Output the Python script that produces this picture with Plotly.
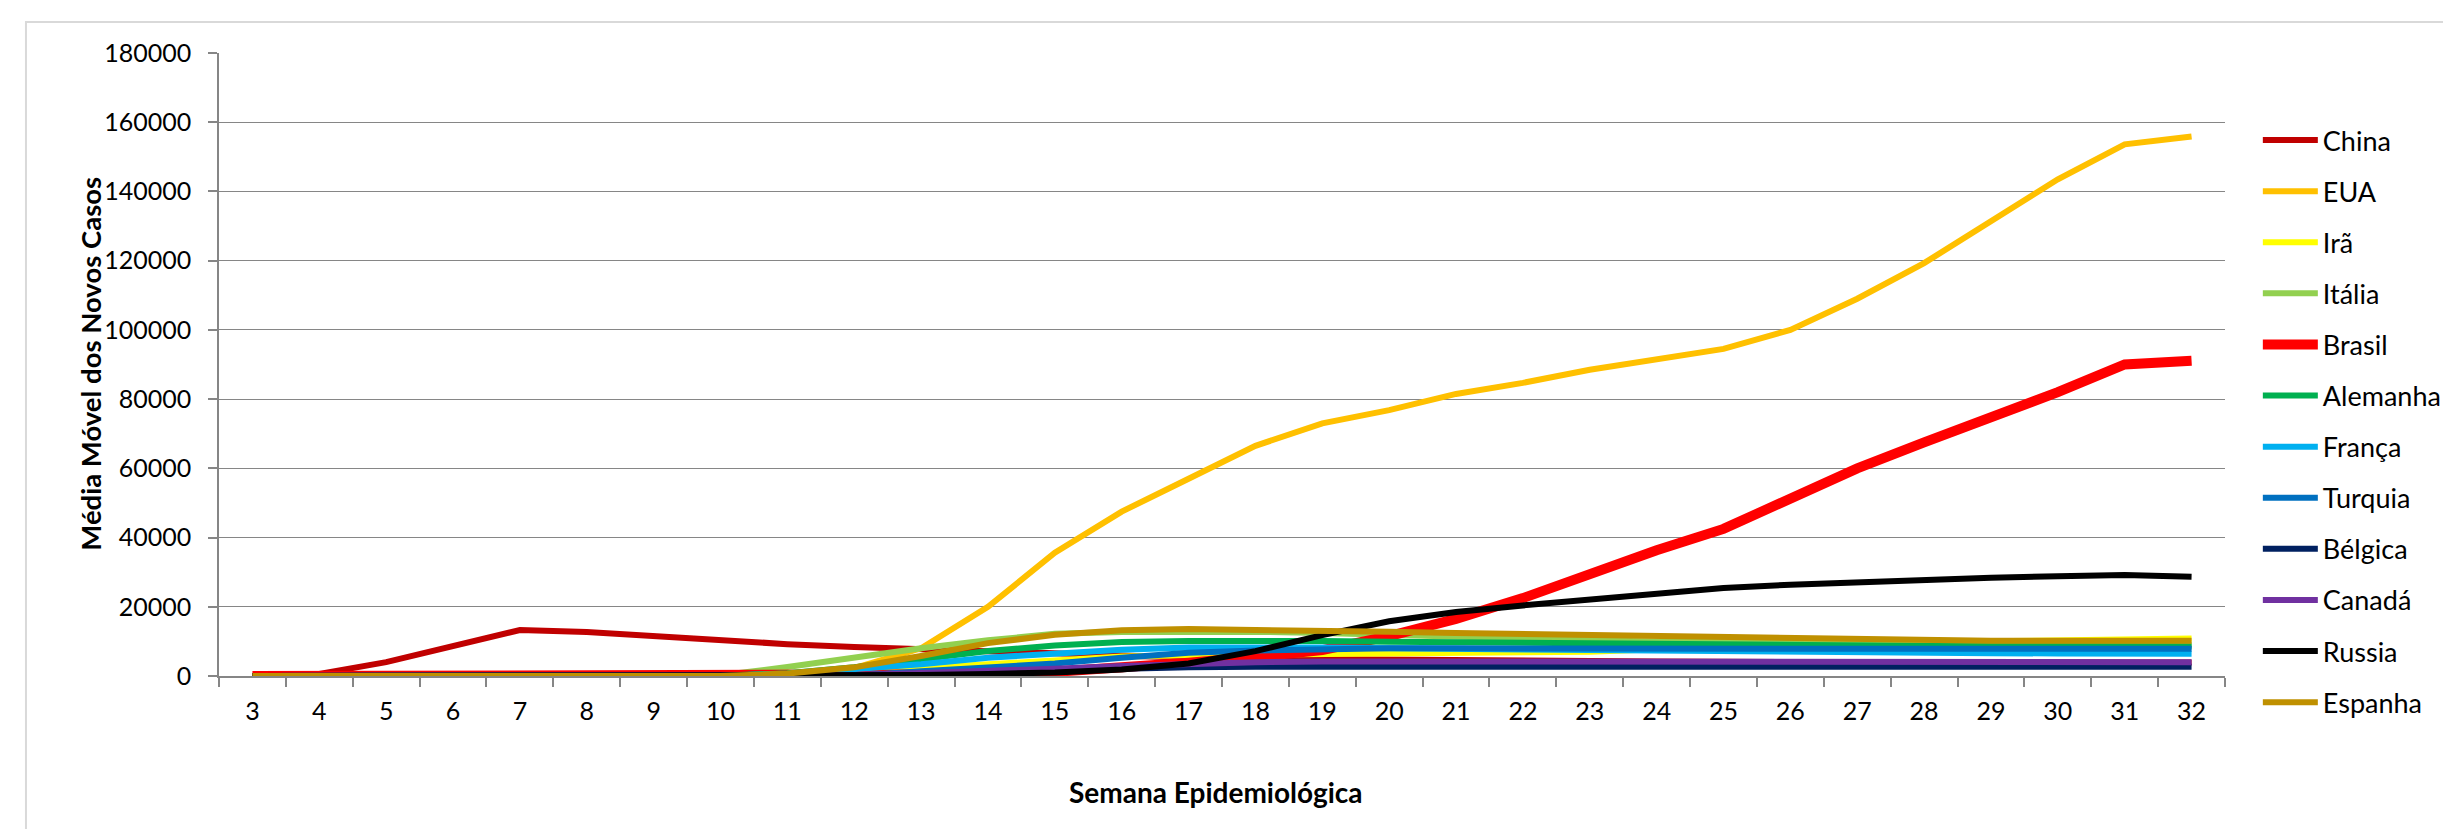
import plotly.graph_objects as go

weeks = [str(w) for w in range(3, 33)]

china    = [0, 600, 4000, 8500, 13300, 12700, 11500, 10300, 9200, 8400, 7800, 7000, 6300, 5700, 5300, 5000, 4800, 4600, 4500, 4400, 4300, 4200, 4100, 4000, 4000, 3900, 3900, 3900, 3900, 3900]
eua      = [0, 0, 0, 0, 0, 0, 0, 100, 500, 2300, 8000, 20000, 35600, 47500, 57000, 66500, 73000, 76800, 81500, 84700, 88500, 91500, 94500, 100000, 109000, 119300, 131500, 143500, 153600, 155900]
ira      = [0, 0, 0, 0, 0, 0, 0, 100, 700, 1400, 2300, 3400, 4600, 5600, 6000, 6100, 6200, 6300, 6400, 6500, 7000, 7700, 8400, 9000, 9400, 9800, 10100, 10300, 10600, 10800]
italia   = [0, 0, 0, 0, 0, 0, 0, 200, 2600, 5500, 8000, 10300, 12200, 12700, 12900, 12800, 12400, 11800, 11200, 10700, 10300, 10000, 9800, 9600, 9400, 9300, 9200, 9100, 9000, 9000]
brasil   = [0, 0, 0, 0, 0, 0, 0, 0, 0, 30, 150, 500, 1200, 2300, 3800, 5500, 7500, 11500, 16500, 22500, 29500, 36300, 42500, 51000, 60000, 67500, 74500, 82000, 90000, 91100]
alemanha = [0, 0, 0, 0, 0, 0, 0, 100, 800, 2500, 4800, 7200, 8800, 9800, 10100, 10200, 10100, 9900, 9700, 9500, 9300, 9100, 9000, 8900, 8800, 8700, 8600, 8500, 8500, 8500]
franca   = [0, 0, 0, 0, 0, 0, 0, 100, 600, 1800, 3400, 5300, 6600, 7600, 8200, 8300, 8200, 8000, 7800, 7600, 7400, 7200, 7000, 6900, 6800, 6700, 6600, 6500, 6400, 6400]
turquia  = [0, 0, 0, 0, 0, 0, 0, 0, 0, 100, 1400, 2400, 3600, 5300, 6700, 7400, 7800, 8000, 8000, 7900, 7900, 7900, 7900, 7900, 7900, 7900, 7900, 7900, 7900, 7900]
belgica  = [0, 0, 0, 0, 0, 0, 0, 0, 50, 200, 700, 1200, 1700, 2200, 2500, 2700, 2700, 2700, 2700, 2700, 2700, 2700, 2700, 2700, 2700, 2700, 2700, 2700, 2650, 2650]
canada   = [0, 0, 0, 0, 0, 0, 0, 0, 50, 300, 900, 1400, 2100, 2900, 3600, 4000, 4200, 4200, 4200, 4200, 4200, 4100, 4100, 4100, 4000, 4000, 4000, 4000, 4000, 4000]
russia   = [0, 0, 0, 0, 0, 0, 0, 0, 0, 50, 300, 600, 1000, 1900, 3600, 7200, 11800, 15800, 18500, 20400, 22200, 24000, 25400, 26400, 27200, 27900, 28400, 28800, 29200, 28700]
espanha  = [0, 0, 0, 0, 0, 0, 0, 0, 700, 2500, 5800, 9500, 11900, 13200, 13550, 13400, 13150, 12800, 12400, 12100, 11700, 11400, 11100, 10800, 10550, 10300, 10200, 10200, 10200, 10200]

names = ["China", "EUA", "Irã", "Itália", "Brasil", "Alemanha", "França", "Turquia", "Bélgica", "Canadá", "Russia", "Espanha"]
series = [china, eua, ira, italia, brasil, alemanha, franca, turquia, belgica, canada, russia, espanha]
colors = ["#C00000", "#FFC000", "#FFFF00", "#92D050", "#FF0000", "#00B050", "#00B0F0", "#0070C0", "#002060", "#7030A0", "#000000", "#BF9000"]
widths = [6, 6, 6, 6, 10, 6, 6, 6, 6, 6, 6, 6]

W, H = 2451, 829
PL, PR, PT, PB = 211, 2227, 45, 668  # plot area in px

def px_x(x):
    return (x - PL) / (PR - PL)

def px_y(y):
    return (PB - y) / (PB - PT)

FONT = "Lato"

fig = go.Figure()
for n, s, c, w in zip(names, series, colors, widths):
    fig.add_trace(go.Scatter(
        x=weeks, y=s, name=n, mode="lines", legendgroup=n,
        line=dict(color=c, width=w, shape="linear"),
    ))

fig.update_layout(
    width=W, height=H,
    margin=dict(l=PL, r=W - PR, t=PT, b=H - PB),
    paper_bgcolor="white", plot_bgcolor="white",
    font=dict(family=FONT, size=25, color="black"),
    showlegend=True,
    legend=dict(
        x=px_x(2260), xanchor="left", y=px_y(108), yanchor="top",
        font=dict(family=FONT, size=27, color="black"),
        itemwidth=55, tracegroupgap=13, bgcolor="rgba(0,0,0,0)",
    ),
    xaxis=dict(
        type="category", range=[-0.5, 29.5],
        showgrid=False, showline=True, linecolor="#868686", linewidth=1.5,
        ticks="outside", tickson="boundaries", ticklen=9, tickcolor="#868686", tickwidth=1.5,
        tickfont=dict(family=FONT, size=25, color="black"),
        ticklabelstandoff=12,
        zeroline=False, fixedrange=True,
    ),
    yaxis=dict(
        range=[0, 180000], dtick=20000, tick0=0, tickformat="d",
        showgrid=True, gridcolor="#868686", gridwidth=1.3,
        showline=True, linecolor="#868686", linewidth=1.5,
        ticks="outside", ticklen=9, tickcolor="#868686", tickwidth=1.5,
        tickfont=dict(family=FONT, size=25, color="black"),
        ticklabelstandoff=12,
        zeroline=False, fixedrange=True,
    ),
    annotations=[
        dict(text="<b>Semana Epidemiológica</b>", xref="paper", yref="paper",
             x=px_x(1213), y=px_y(784), showarrow=False, xanchor="center", yanchor="middle",
             font=dict(family=FONT, size=28, color="black")),
        dict(text="<b>Média Móvel dos Novos Casos</b>", xref="paper", yref="paper",
             x=px_x(82), y=px_y(356), showarrow=False, xanchor="center", yanchor="middle",
             textangle=-90, font=dict(family=FONT, size=27.5, color="black")),
    ],
    shapes=[
        dict(type="rect", xref="paper", yref="paper",
             x0=px_x(17), x1=px_x(2470), y0=px_y(14), y1=px_y(850),
             line=dict(color="#D9D9D9", width=2), fillcolor="rgba(0,0,0,0)", layer="below"),
    ],
)

fig.write_html("out.html")
